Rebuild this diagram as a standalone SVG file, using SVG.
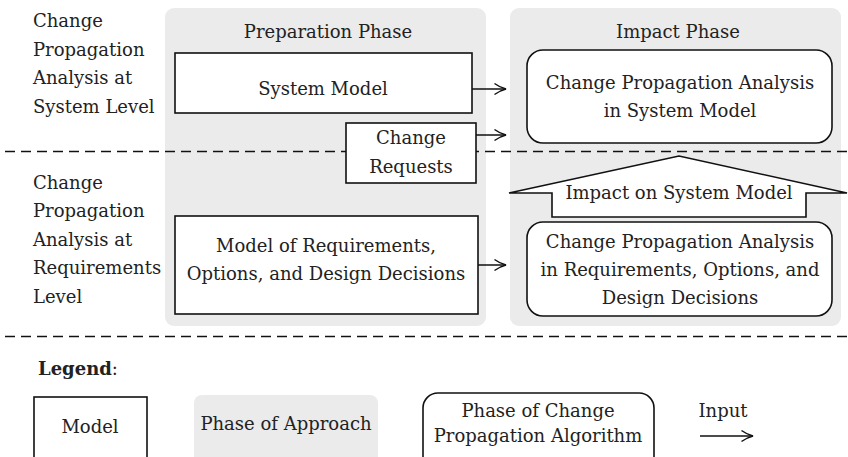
<svg xmlns="http://www.w3.org/2000/svg" width="848" height="457" viewBox="0 0 848 457">
<style>
text{font-family:"DejaVu Serif","Liberation Serif",serif;font-size:18px;fill:#222;}
.c{text-anchor:middle;}
.panel{fill:#ebebeb;stroke:none;}
.box{fill:#fff;stroke:#111;stroke-width:1.6;}
.dash{stroke:#111;stroke-width:1.7;stroke-dasharray:10 6;fill:none;}
.arr{stroke:#111;stroke-width:1.5;fill:none;marker-end:url(#ah);}
</style>
<defs>
<marker id="ah" viewBox="0 0 14 14" refX="13" refY="7" markerWidth="14" markerHeight="14" markerUnits="userSpaceOnUse" orient="auto">
<path d="M1.5,1.5 Q7,5.5 13,7 Q7,8.5 1.5,12.5" fill="none" stroke="#111" stroke-width="1.5"/>
</marker>
</defs>
<rect width="848" height="457" fill="#fff"/>
<g id="prep-phase"><rect class="panel" x="165" y="8" width="321" height="318" rx="9"/><text class="c" x="328" y="38">Preparation Phase</text></g>
<g id="impact-phase"><rect class="panel" x="510" y="8" width="331" height="318" rx="9"/><text class="c" x="678" y="38">Impact Phase</text></g>
<g id="dividers"><line class="dash" x1="5" y1="151.5" x2="848" y2="151.5"/><line class="dash" x1="5" y1="336.5" x2="848" y2="336.5"/></g>
<g id="label-system"><text x="33" y="27">Change</text><text x="33" y="56">Propagation</text><text x="33" y="84">Analysis at</text><text x="33" y="113">System Level</text></g>
<g id="label-req"><text x="33" y="189">Change</text><text x="33" y="217">Propagation</text><text x="33" y="246">Analysis at</text><text x="33" y="274">Requirements</text><text x="33" y="303">Level</text></g>
<g id="system-model"><rect class="box" x="175" y="53" width="297" height="60"/><text class="c" x="323" y="95">System Model</text></g>
<g id="change-requests"><rect class="box" x="346" y="123" width="130" height="60"/><text class="c" x="411" y="144">Change</text><text class="c" x="411" y="173">Requests</text></g>
<g id="req-model"><rect class="box" x="175" y="216" width="303" height="98"/><text class="c" x="326" y="252">Model of Requirements,</text><text class="c" x="326" y="280">Options, and Design Decisions</text></g>
<g id="cpa-system"><rect class="box" x="527" y="50" width="305" height="93" rx="16"/><text class="c" x="680" y="89">Change Propagation Analysis</text><text class="c" x="680" y="117">in System Model</text></g>
<g id="impact-arrow"><path class="box" d="M509,193 L679,156 L847,193 L806,193 L806,217 L552,217 L552,193 Z"/><text class="c" x="679" y="199">Impact on System Model</text></g>
<g id="cpa-req"><rect class="box" x="527" y="222" width="305" height="94" rx="16"/><text class="c" x="680" y="248">Change Propagation Analysis</text><text class="c" x="680" y="276">in Requirements, Options, and</text><text class="c" x="680" y="304">Design Decisions</text></g>
<g id="connectors">
<line class="arr" x1="472" y1="89" x2="506" y2="89"/>
<line class="arr" x1="476" y1="135" x2="506" y2="135"/>
<line class="arr" x1="478" y1="265" x2="506" y2="265"/>
</g>
<g id="legend">
<text x="38" y="375"><tspan font-weight="bold">Legend</tspan>:</text>
<g id="legend-model"><rect class="box" x="34" y="397" width="113" height="80"/><text class="c" x="90" y="433">Model</text></g>
<g id="legend-phase"><rect class="panel" x="194" y="395" width="184" height="80" rx="8"/><text class="c" x="286" y="430">Phase of Approach</text></g>
<g id="legend-algo"><rect class="box" x="423" y="393" width="231" height="80" rx="15"/><text class="c" x="538" y="417">Phase of Change</text><text class="c" x="538" y="442">Propagation Algorithm</text></g>
<g id="legend-input"><text class="c" x="723" y="417">Input</text><line class="arr" x1="700" y1="436" x2="753" y2="436"/></g>
</g>
</svg>
